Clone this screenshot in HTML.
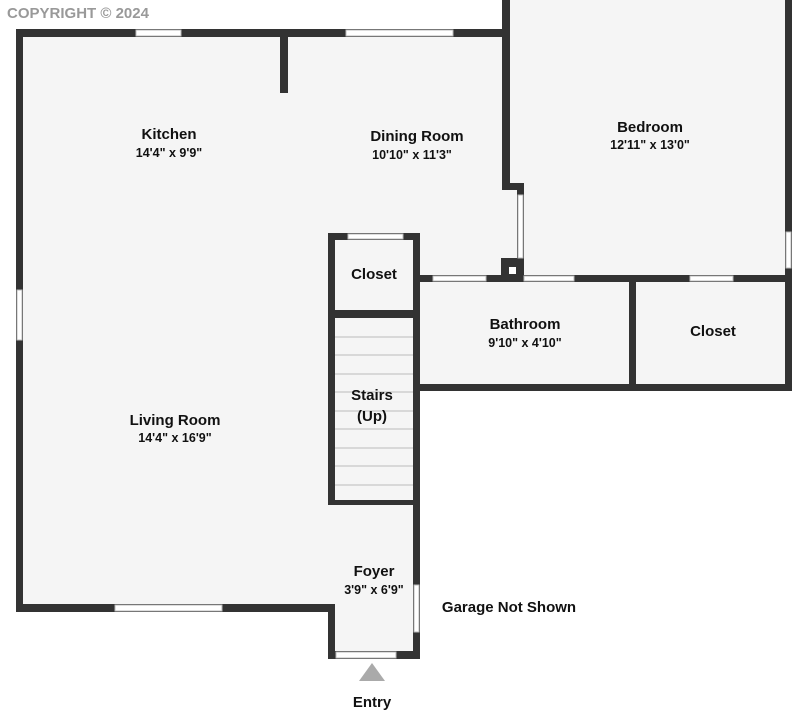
<!DOCTYPE html>
<html><head><style>body{margin:0;background:#fff}svg{display:block}text{font-family:"Liberation Sans",sans-serif;fill:#111;text-anchor:middle}.l{font-weight:bold;font-size:15px}.d{font-size:12.5px;font-weight:bold}</style></head><body>
<svg width="792" height="720" viewBox="0 0 792 720">
<rect width="792" height="720" fill="#fff"/>
<rect x="20" y="33" width="500" height="247" fill="#f5f5f5"/>
<rect x="20" y="270" width="396" height="338" fill="#f5f5f5"/>
<rect x="506" y="0" width="282" height="280" fill="#f5f5f5"/>
<rect x="416" y="280" width="372" height="108" fill="#f5f5f5"/>
<rect x="330" y="600" width="88" height="55" fill="#f5f5f5"/>
<g fill="#333">
<rect x="16" y="29" width="490" height="8"/>
<rect x="16" y="29" width="7" height="583"/>
<rect x="16" y="604" width="319" height="8"/>
<rect x="328" y="604" width="7" height="55"/>
<rect x="328" y="651" width="92" height="8"/>
<rect x="413" y="233" width="7" height="426"/>
<rect x="280" y="33" width="8" height="60"/>
<rect x="502" y="0" width="8" height="190"/>
<rect x="502" y="183" width="22" height="7"/>
<rect x="517" y="183" width="7" height="99"/>
<rect x="501" y="258" width="23" height="24"/>
<rect x="785" y="0" width="7" height="391"/>
<rect x="328" y="233" width="92" height="7"/>
<rect x="328" y="233" width="7" height="272"/>
<rect x="328" y="310" width="92" height="8"/>
<rect x="328" y="500" width="92" height="5"/>
<rect x="413" y="275" width="379" height="7"/>
<rect x="413" y="384" width="379" height="7"/>
<rect x="629" y="275" width="7" height="116"/>
</g>
<g fill="#fff" stroke="#bbb" stroke-width="1">
<rect x="136" y="30" width="45" height="6"/>
<rect x="346" y="30" width="107" height="6"/>
<rect x="17" y="290" width="5" height="50"/>
<rect x="115" y="605" width="107" height="6"/>
<rect x="336" y="652" width="60" height="6"/>
<rect x="414" y="585" width="5" height="47"/>
<rect x="518" y="195" width="5" height="63"/>
<rect x="348" y="234" width="55" height="5"/>
<rect x="433" y="276" width="53" height="5"/>
<rect x="524" y="276" width="50" height="5"/>
<rect x="690" y="276" width="43" height="5"/>
<rect x="786" y="232" width="5" height="36"/>
</g>
<rect x="509" y="267" width="7" height="7" fill="#fff"/>
<g stroke="#bbb" stroke-width="1">
<line x1="335" y1="337" x2="413" y2="337"/><line x1="335" y1="355" x2="413" y2="355"/>
<line x1="335" y1="374" x2="413" y2="374"/><line x1="335" y1="392" x2="413" y2="392"/>
<line x1="335" y1="411" x2="413" y2="411"/><line x1="335" y1="429" x2="413" y2="429"/>
<line x1="335" y1="448" x2="413" y2="448"/><line x1="335" y1="466" x2="413" y2="466"/>
<line x1="335" y1="485" x2="413" y2="485"/>
</g>
<polygon points="372,663 385,681 359,681" fill="#aaa"/>
<text x="78" y="18" style="font-size:15px;fill:#999;font-weight:bold">COPYRIGHT © 2024</text>
<text class="l" x="169" y="139">Kitchen</text><text class="d" x="169" y="157">14'4" x 9'9"</text>
<text class="l" x="417" y="141">Dining Room</text><text class="d" x="412" y="159">10'10" x 11'3"</text>
<text class="l" x="650" y="132">Bedroom</text><text class="d" x="650" y="149">12'11" x 13'0"</text>
<text class="l" x="374" y="279">Closet</text>
<text class="l" x="525" y="329">Bathroom</text><text class="d" x="525" y="347">9'10" x 4'10"</text>
<text class="l" x="713" y="336">Closet</text>
<text class="l" x="372" y="400">Stairs</text><text class="l" x="372" y="421">(Up)</text>
<text class="l" x="175" y="425">Living Room</text><text class="d" x="175" y="442">14'4" x 16'9"</text>
<text class="l" x="374" y="576">Foyer</text><text class="d" x="374" y="594">3'9" x 6'9"</text>
<text class="l" x="509" y="612">Garage Not Shown</text>
<text class="l" x="372" y="707">Entry</text>
</svg></body></html>
